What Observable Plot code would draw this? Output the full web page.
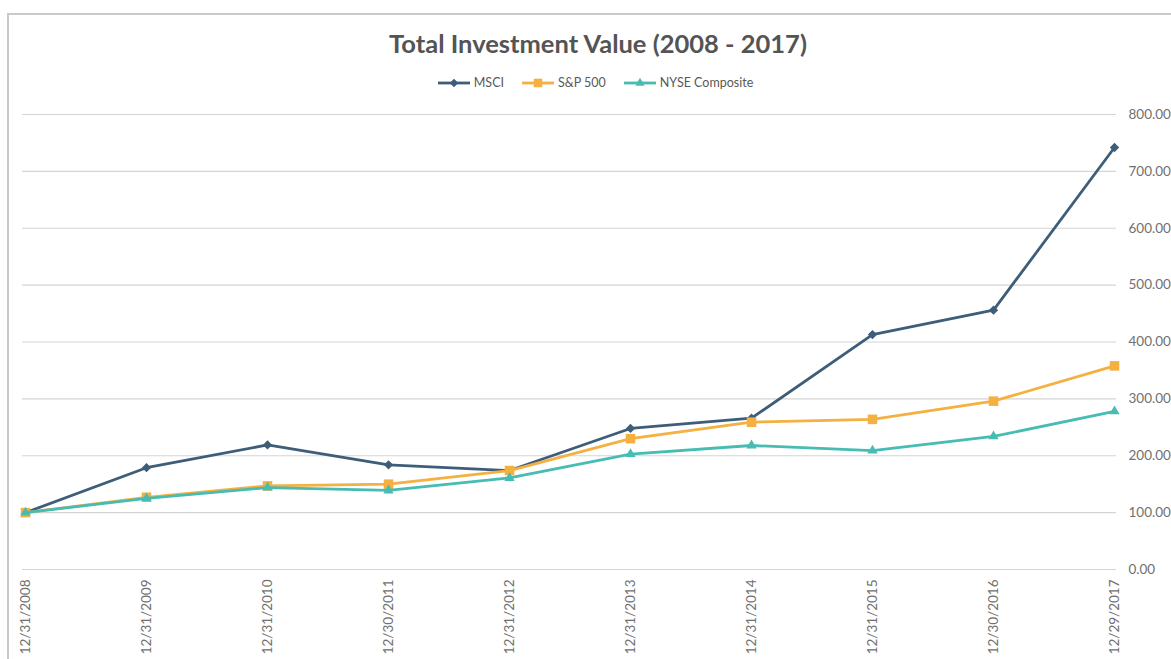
<!DOCTYPE html>
<html>
<head>
<meta charset="utf-8">
<script src="https://cdn.jsdelivr.net/npm/d3@7"></script>
<script src="https://cdn.jsdelivr.net/npm/@observablehq/plot@0.6"></script>
<style>
  html, body { margin: 0; padding: 0; background: #fff; overflow: hidden; }
  body { width: 1171px; height: 659px; position: relative; font-family: Lato, "Open Sans", sans-serif; }
  #frame { position: absolute; left: 7px; top: 13px; width: 1200px; height: 700px; border-left: 2px solid #c9c9c9; border-top: 2px solid #c9c9c9; pointer-events: none; }
  #head { position: relative; height: 100px; }
  #title { position: absolute; top: 28px; left: 25px; right: 0; text-align: center; font-size: 25.5px; font-weight: bold; color: #545454; line-height: 30px; }
  #legend { position: absolute; top: 74px; left: 20px; right: 0; display: flex; justify-content: center; gap: 18px; font-size: 12.5px; color: #595959; line-height: 18px; }
  .item { display: flex; align-items: center; gap: 4px; }
  #chart { position: relative; }
</style>
</head>
<body>
<div id="head">
  <div id="title">Total Investment Value (2008 - 2017)</div>
  <div id="legend"></div>
</div>
<div id="chart"></div>
<div id="frame"></div>
<script>
const dates = ["12/31/2008","12/31/2009","12/31/2010","12/30/2011","12/31/2012","12/31/2013","12/31/2014","12/31/2015","12/30/2016","12/29/2017"];
const msci  = [100, 179, 219, 184, 174, 248, 266, 413, 456, 742];
const sp500 = [100, 127, 147, 150, 174, 230, 259, 264, 296, 358];
const nyse  = [100, 125, 144, 139, 161, 203, 218, 209, 234, 278];
const seriesNames = ["MSCI", "S&P 500", "NYSE Composite"];
const seriesColors = ["#3d5d78", "#f4b040", "#47bcb3"];
const seriesSymbols = ["diamond2", "square", "triangle"];
const seriesR = [4.2, 5.4, 3.8];
const yTicks = [0, 100, 200, 300, 400, 500, 600, 700, 800];

const seriesValues = [msci, sp500, nyse];
const rows = [];
seriesNames.forEach((s, i) => dates.forEach((d, j) => rows.push({series: s, date: d, value: seriesValues[i][j]})));

const seriesMarks = [];
seriesNames.forEach((s, i) => {
  const data = rows.filter(r => r.series === s);
  seriesMarks.push(Plot.line(data, {x: "date", y: "value", stroke: seriesColors[i], strokeWidth: 2.8}));
  seriesMarks.push(Plot.dot(data, {x: "date", y: "value", symbol: seriesSymbols[i], fill: seriesColors[i], stroke: "none", r: seriesR[i]}));
});

const chart = Plot.plot({
  width: 1171,
  height: 559,
  marginTop: 14,
  marginBottom: 90,
  marginLeft: 22,
  marginRight: 55,
  style: {fontFamily: "Lato, 'Open Sans', sans-serif", fontSize: "13.5px", color: "#707070", background: "transparent", overflow: "visible"},
  x: {type: "point", domain: dates, padding: 0},
  y: {domain: [0, 800]},
  marks: [
    Plot.gridY(yTicks, {stroke: "#d4d4d4", strokeOpacity: 1, strokeWidth: 1.2}),
    Plot.axisY(yTicks, {anchor: "right", tickSize: 0, tickPadding: 12, tickFormat: d => d.toFixed(2), label: null}),
    Plot.axisX({tickSize: 0, tickRotate: -90, tickPadding: 10, label: null}),
    ...seriesMarks
  ]
});
document.getElementById("chart").appendChild(chart);

// Legend
const legend = document.getElementById("legend");
seriesNames.forEach((s, i) => {
  const item = document.createElement("div");
  item.className = "item";
  const sw = d3.create("svg").attr("width", 32).attr("height", 12);
  sw.append("line").attr("x1", 0).attr("x2", 32).attr("y1", 6).attr("y2", 6).attr("stroke", seriesColors[i]).attr("stroke-width", 2.8);
  const sym = {diamond2: d3.symbolDiamond2, square: d3.symbolSquare, triangle: d3.symbolTriangle}[seriesSymbols[i]];
  sw.append("path").attr("transform", "translate(16,6)").attr("d", d3.symbol(sym, Math.PI * seriesR[i] * seriesR[i] * 0.8)()).attr("fill", seriesColors[i]);
  item.appendChild(sw.node());
  const t = document.createElement("span");
  t.textContent = s;
  item.appendChild(t);
  legend.appendChild(item);
});
</script>
</body>
</html>
